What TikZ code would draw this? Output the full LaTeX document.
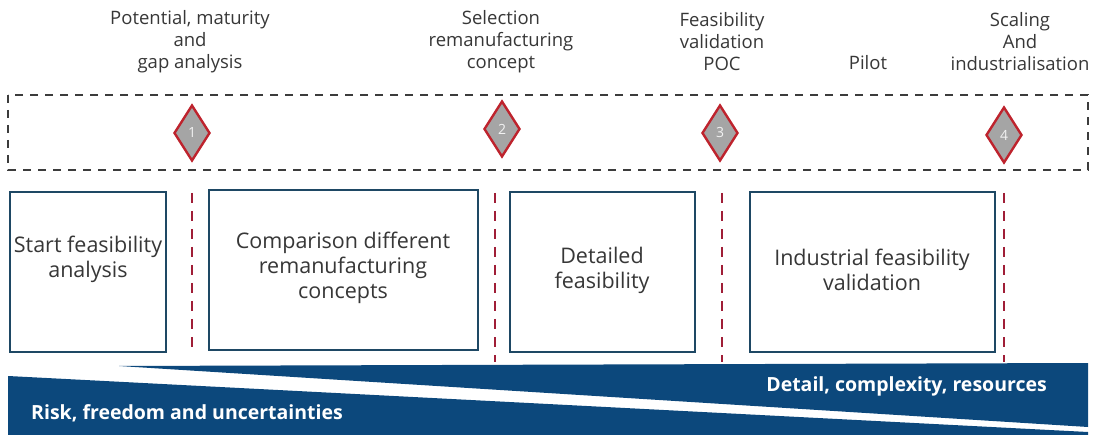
\documentclass[tikz,border=0pt]{standalone}
\usepackage{fontspec}
\setmainfont{Open Sans}
\usetikzlibrary{shapes.geometric}
\definecolor{bandblue}{RGB}{12,72,124}
\definecolor{boxline}{RGB}{30,72,100}
\definecolor{sepred}{RGB}{160,30,55}
\definecolor{dmdred}{RGB}{190,35,45}
\definecolor{dmdfill}{RGB}{165,165,165}
\definecolor{txtgray}{RGB}{55,55,55}
\definecolor{frame}{RGB}{60,60,60}
\tikzset{
  toplabel/.style={text=txtgray, align=center, inner sep=0pt, font=\fontsize{18.5}{22}\selectfont},
  stagebox/.style={draw=boxline, line width=2.4pt, fill=white},
  stagetext/.style={text=txtgray, align=center, inner sep=0pt, font=\fontsize{21.5}{25}\selectfont},
  gate/.style={diamond, draw=dmdred, line width=2.4pt, fill=dmdfill, minimum width=36pt, minimum height=56pt, inner sep=0pt, text=white!90!gray, font=\fontsize{14}{14}\selectfont},
  sepline/.style={draw=sepred, line width=2.6pt, dash pattern=on 10pt off 8pt},
  bandtext/.style={text=white, inner sep=0pt, font=\bfseries\fontsize{19.5}{20}\selectfont},
}
\begin{document}
\begin{tikzpicture}[x=1pt,y=-1pt]
\useasboundingbox (0,0) rectangle (1094,435);
% top labels
\node[toplabel] (l1) at (190,42) {Potential, maturity\\and\\gap analysis};
\node[toplabel] (l2) at (501,42) {Selection\\remanufacturing\\concept};
\node[toplabel] (l3) at (722,42) {Feasibility\\validation\\POC};
\node[toplabel, anchor=base] (l4) at (868,70) {Pilot};
\node[toplabel] (l5) at (1020,42) {Scaling\\And\\industrialisation};
% dashed frame
\draw[frame, line width=1.8pt, dash pattern=on 8pt off 7pt] (8,95) rectangle (1088,170);
% gates
\node[gate] (g1) at (192,133) {1};
\node[gate] (g2) at (502,129) {2};
\node[gate] (g3) at (720,133) {3};
\node[gate] (g4) at (1004,135) {4};
% separators
\coordinate (s1a) at (192,193); \coordinate (s1b) at (192,352);
\coordinate (s2a) at (495,193); \coordinate (s2b) at (495,362);
\coordinate (s3a) at (722,193); \coordinate (s3b) at (722,362);
\coordinate (s4a) at (1004,193); \coordinate (s4b) at (1004,362);
\draw[sepline] (s1a) -- (s1b);
\draw[sepline] (s2a) -- (s2b);
\draw[sepline] (s3a) -- (s3b);
\draw[sepline] (s4a) -- (s4b);
% stage boxes
\draw[stagebox] (10,192) rectangle (166,352);
\node[stagetext] (b1) at (88,259) {Start feasibility\\analysis};
\draw[stagebox] (209,190) rectangle (478,350);
\node[stagetext] (b2) at (343,268) {Comparison different\\remanufacturing\\concepts};
\draw[stagebox] (510,192) rectangle (695,352);
\node[stagetext] (b3) at (602,270) {Detailed\\feasibility};
\draw[stagebox] (750,192) rectangle (995,352);
\node[stagetext] (b4) at (872,270) {Industrial feasibility\\validation};
% band
\fill[bandblue] (119,366) -- (1088,363) -- (1088,427) -- cycle;
\fill[bandblue] (8,376) -- (1088,432) -- (1088,436) -- (8,436) -- cycle;
\node[bandtext, anchor=base east] (t1) at (1047,391) {Detail, complexity, resources};
\node[bandtext, anchor=base west] (t2) at (31,419) {Risk, freedom and uncertainties};
\end{tikzpicture}
\end{document}
